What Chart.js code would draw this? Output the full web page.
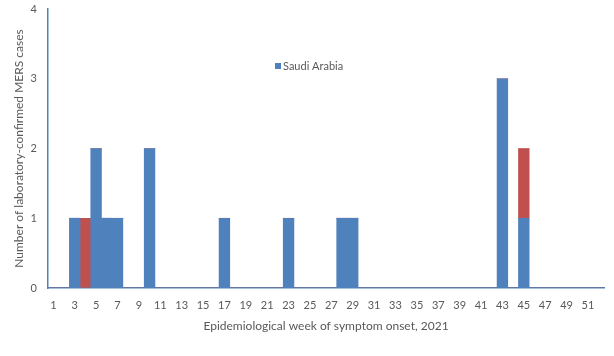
<!DOCTYPE html>
<html>
<head>
<meta charset="utf-8">
<script src="https://cdn.jsdelivr.net/npm/chart.js@4/dist/chart.umd.min.js"></script>
<style>
html,body{margin:0;padding:0;background:#fff;}
#wrap{width:614px;height:356px;position:relative;}
</style>
</head>
<body>
<div id="wrap"><canvas id="c" width="614" height="356"></canvas></div>
<script>
const weeks = Array.from({length: 52}, (_, i) => String(i + 1));
const saudiArabia = [0,0,1,0,2,1,1,0,0,2,0,0,0,0,0,0,1,0,0,0,0,0,1,0,0,0,0,1,1,0,0,0,0,0,0,0,0,0,0,0,0,0,3,0,1,0,0,0,0,0,0,0];
const otherCountry = [0,0,0,1,0,0,0,0,0,0,0,0,0,0,0,0,0,0,0,0,0,0,0,0,0,0,0,0,0,0,0,0,0,0,0,0,0,0,0,0,0,0,0,0,1,0,0,0,0,0,0,0];
const yTicks = [0,1,2,3,4];

const FONT = 'Lato, "Open Sans", sans-serif';
const GRAY = '#595959';
const AXIS = '#4F81BD';

const legendPlugin = {
  id: 'customLegend',
  afterDraw(chart) {
    const ctx = chart.ctx;
    ctx.save();
    ctx.fillStyle = '#4F81BD';
    ctx.fillRect(275, 63, 6, 6);
    ctx.fillStyle = GRAY;
    ctx.font = '11px ' + FONT;
    ctx.textBaseline = 'middle';
    ctx.textAlign = 'left';
    ctx.fillText(chart.data.datasets[0].label, 283, 66);
    ctx.restore();
  }
};

new Chart(document.getElementById('c'), {
  type: 'bar',
  data: {
    labels: weeks,
    datasets: [
      {label: 'Saudi Arabia', data: saudiArabia, backgroundColor: '#4F81BD', barPercentage: 1, categoryPercentage: 1, borderWidth: 0},
      {label: 'United Arab Emirates', data: otherCountry, backgroundColor: '#C0504D', barPercentage: 1, categoryPercentage: 1, borderWidth: 0}
    ]
  },
  options: {
    responsive: false,
    animation: false,
    layout: {padding: {top: 9, right: 10, left: 0, bottom: 0}},
    plugins: {legend: {display: false}, tooltip: {enabled: false}},
    scales: {
      x: {
        stacked: true,
        grid: {display: false, drawTicks: false},
        border: {display: true, color: AXIS, width: 1.5},
        ticks: {
          color: GRAY, font: {size: 11, family: FONT}, padding: 11,
          autoSkip: false, maxRotation: 0,
          callback: (v, i) => (i % 2 === 0 ? weeks[i] : '')
        },
        title: {display: true, text: 'Epidemiological week of symptom onset, 2021', color: GRAY, font: {size: 12, family: FONT}, padding: {top: 6, bottom: 23}},
        afterFit: s => { s.height = 68; }
      },
      y: {
        stacked: true,
        min: 0, max: 4,
        afterBuildTicks: s => { s.ticks = yTicks.map(v => ({value: v})); },
        grid: {display: false, drawTicks: false},
        border: {display: true, color: AXIS, width: 1.5},
        ticks: {color: GRAY, font: {size: 11, family: FONT}, padding: 11},
        title: {display: true, text: 'Number of laboratory-confirmed MERS cases', color: GRAY, font: {size: 12, family: FONT}, padding: {top: 12, bottom: 4}},
        afterFit: s => { s.width = 48; s.paddingTop = 0; s.paddingBottom = 0; }
      }
    }
  },
  plugins: [legendPlugin]
});
</script>
</body>
</html>
